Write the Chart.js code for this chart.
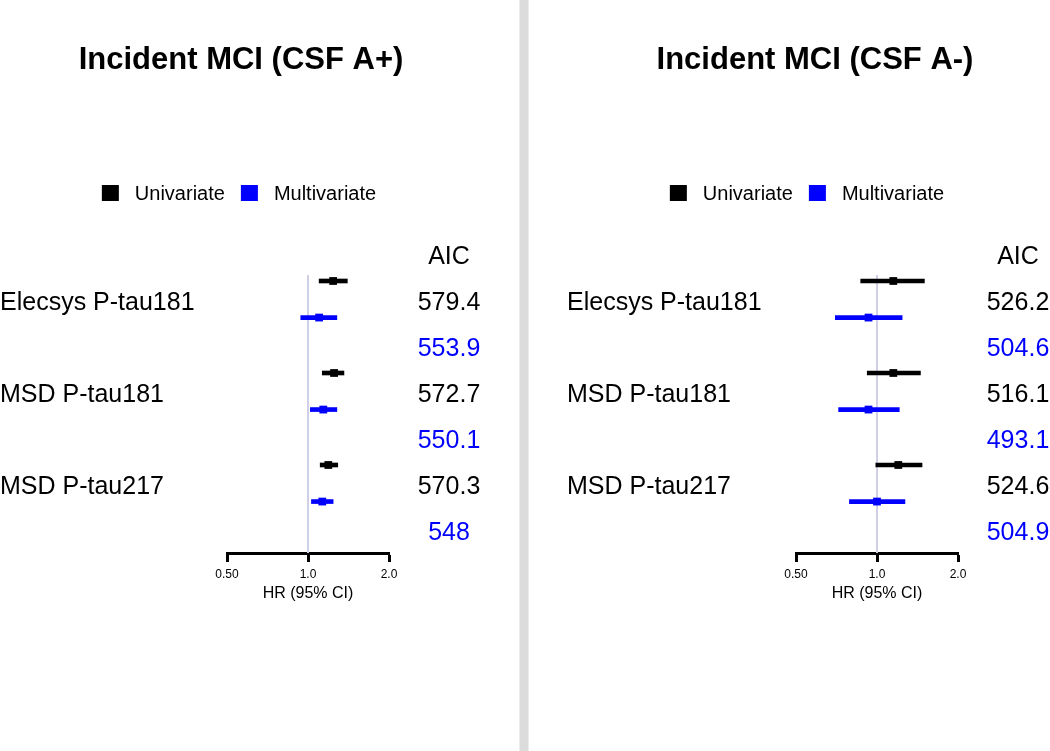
<!DOCTYPE html>
<html>
<head>
<meta charset="utf-8">
<script src="https://cdn.jsdelivr.net/npm/chart.js@4.4.1/dist/chart.umd.min.js"></script>
<style>
  html, body { margin: 0; padding: 0; background: #fff; }
  #wrap { position: relative; width: 1050px; height: 751px; overflow: hidden; }
  #sep { position: absolute; left: 519px; top: 0; width: 10px; height: 751px; background: #dcdcdc; border-left: 1px solid #ececec; border-right: 1px solid #ececec; box-sizing: border-box; }
  #c1 { position: absolute; left: 0; top: 0; }
  #c2 { position: absolute; left: 529px; top: 0; }
</style>
</head>
<body>
<div id="wrap">
  <canvas id="c1" width="519" height="751"></canvas>
  <div id="sep"></div>
  <canvas id="c2" width="521" height="751"></canvas>
</div>
<script>
// ---------------- DATA ----------------
const markers = ['Elecsys P-tau181', 'MSD P-tau181', 'MSD P-tau217'];
const seriesNames = ['Univariate', 'Multivariate'];
const xTickValues = [0.5, 1, 2];
const xTickLabels = ['0.50', '1.0', '2.0'];

// Incident MCI (CSF A+)
const posUniHR   = [1.24, 1.25, 1.19];
const posUniLo   = [1.10, 1.13, 1.11];
const posUniHi   = [1.40, 1.36, 1.29];
const posMultiHR = [1.10, 1.14, 1.13];
const posMultiLo = [0.94, 1.02, 1.03];
const posMultiHi = [1.28, 1.28, 1.24];
const posUniAIC   = ['579.4', '572.7', '570.3'];
const posMultiAIC = ['553.9', '550.1', '548'];

// Incident MCI (CSF A-)
const negUniHR   = [1.15, 1.15, 1.20];
const negUniLo   = [0.87, 0.92, 0.99];
const negUniHi   = [1.50, 1.45, 1.47];
const negMultiHR = [0.93, 0.93, 1.00];
const negMultiLo = [0.70, 0.72, 0.79];
const negMultiHi = [1.24, 1.21, 1.27];
const negUniAIC   = ['526.2', '516.1', '524.6'];
const negMultiAIC = ['504.6', '493.1', '504.9'];

// ---------------- LAYOUT ----------------
const COLORS = ['#000000', '#0000ff'];
const FONT = '"Liberation Sans", Arial, Helvetica, sans-serif';
const ROW_PX = 46;          // spacing of text rows
const HEADER_PX = 255;      // y of the "AIC" header row
const TOP_PX = 25;          // top of the plot area
const AXIS_PX = 553;        // y of x-axis line
const Y_MIN = -(HEADER_PX - TOP_PX) / ROW_PX;
const Y_MAX = (AXIS_PX - HEADER_PX) / ROW_PX;
const UNI_OFF = 0.565, MULTI_OFF = 1.36, REF_TOP = 0.435;

function rowPos(g, s) { return 2 * g + (s === 0 ? UNI_OFF : MULTI_OFF); }

const textPlugin = {
  id: 'forestText',
  afterDraw(chart, args, o) {
    const ctx = chart.ctx, ys = chart.scales.y;
    ctx.save();
    // title
    ctx.fillStyle = '#000';
    ctx.font = 'bold 31px ' + FONT;
    ctx.textAlign = 'center';
    ctx.textBaseline = 'alphabetic';
    ctx.fillText(o.title, o.titleX, 69);
    // legend
    ctx.font = '20px ' + FONT;
    ctx.textAlign = 'left';
    const sq = 17, gapA = 16, gapB = 16;
    let total = 0;
    seriesNames.forEach((n, i) => { total += sq + gapA + ctx.measureText(n).width + (i < seriesNames.length - 1 ? gapB : 0); });
    let x = o.legendX - total / 2;
    seriesNames.forEach((n, i) => {
      ctx.fillStyle = COLORS[i];
      ctx.fillRect(x, 185, sq, 16);
      x += sq + gapA;
      ctx.fillStyle = '#000';
      ctx.fillText(n, x, 200);
      x += ctx.measureText(n).width + gapB;
    });
    // AIC header
    ctx.font = '25px ' + FONT;
    ctx.textAlign = 'center';
    ctx.fillStyle = '#000';
    ctx.fillText('AIC', o.aicX, ys.getPixelForValue(0) + 9);
    // row labels + AIC values
    markers.forEach((m, g) => {
      ctx.textAlign = 'left';
      ctx.fillStyle = '#000';
      ctx.fillText(m, o.labelX, ys.getPixelForValue(2 * g + 1) + 9);
      ctx.textAlign = 'center';
      ctx.fillStyle = COLORS[0];
      ctx.fillText(o.uniAIC[g], o.aicX, ys.getPixelForValue(2 * g + 1) + 9);
      ctx.fillStyle = COLORS[1];
      ctx.fillText(o.multiAIC[g], o.aicX, ys.getPixelForValue(2 * g + 2) + 9);
    });
    ctx.restore();
  }
};

function makeChart(id, d) {
  const datasets = [];
  datasets.push({
    type: 'line', label: 'ref',
    data: [{ x: 1, y: REF_TOP }, { x: 1, y: Y_MAX }],
    borderColor: '#cfcfe8', borderWidth: 2, pointRadius: 0, order: 5
  });
  const series = [
    { hr: d.uniHR, lo: d.uniLo, hi: d.uniHi },
    { hr: d.multiHR, lo: d.multiLo, hi: d.multiHi }
  ];
  series.forEach((s, si) => {
    datasets.push({
      type: 'bar', label: seriesNames[si] + ' CI', indexAxis: 'y', grouped: false,
      data: markers.map((m, g) => ({ x: [s.lo[g], s.hi[g]], y: rowPos(g, si) })),
      backgroundColor: COLORS[si], borderWidth: 0, barThickness: 4, order: 3
    });
    datasets.push({
      type: 'scatter', label: seriesNames[si],
      data: markers.map((m, g) => ({ x: s.hr[g], y: rowPos(g, si) })),
      backgroundColor: COLORS[si], borderWidth: 0, pointStyle: 'rect', pointRadius: 5.5, order: 1
    });
  });
  return new Chart(document.getElementById(id), {
    type: 'bar',
    data: { datasets },
    plugins: [textPlugin],
    options: {
      responsive: false, animation: false, devicePixelRatio: 1,
      layout: { padding: { left: d.axisLeft, right: d.axisRight, top: TOP_PX, bottom: 751 - AXIS_PX - 50 } },
      plugins: {
        legend: { display: false }, tooltip: { enabled: false }, title: { display: false },
        forestText: d.text
      },
      scales: {
        x: {
          type: 'logarithmic', min: 0.5, max: 2, offset: false,
          afterBuildTicks: (s) => { s.ticks = xTickValues.map(v => ({ value: v })); },
          afterFit: (s) => { s.height = 50; },
          ticks: {
            autoSkip: false, maxRotation: 0, color: '#000', padding: 5,
            font: { size: 12, family: FONT },
            callback: (v, i) => xTickLabels[i]
          },
          grid: { offset: false, drawOnChartArea: false, drawTicks: true, tickLength: 9, tickWidth: 3, tickColor: '#000' },
          border: { display: true, color: '#000', width: 3 },
          title: { display: true, text: 'HR (95% CI)', color: '#000', font: { size: 16, family: FONT }, padding: { top: 0, bottom: 0 } }
        },
        y: { type: 'linear', min: Y_MIN, max: Y_MAX, reverse: true, display: false, offset: false, grid: { offset: false } }
      }
    }
  });
}

makeChart('c1', {
  uniHR: posUniHR, uniLo: posUniLo, uniHi: posUniHi,
  multiHR: posMultiHR, multiLo: posMultiLo, multiHi: posMultiHi,
  axisLeft: 227, axisRight: 519 - 389,
  text: { title: 'Incident MCI (CSF A+)', titleX: 241, legendX: 239, labelX: 0, aicX: 449, uniAIC: posUniAIC, multiAIC: posMultiAIC }
});
makeChart('c2', {
  uniHR: negUniHR, uniLo: negUniLo, uniHi: negUniHi,
  multiHR: negMultiHR, multiLo: negMultiLo, multiHi: negMultiHi,
  axisLeft: 796 - 529, axisRight: 521 - (958 - 529),
  text: { title: 'Incident MCI (CSF A-)', titleX: 815 - 529, legendX: 807 - 529, labelX: 567 - 529, aicX: 1018 - 529, uniAIC: negUniAIC, multiAIC: negMultiAIC }
});
</script>
</body>
</html>
